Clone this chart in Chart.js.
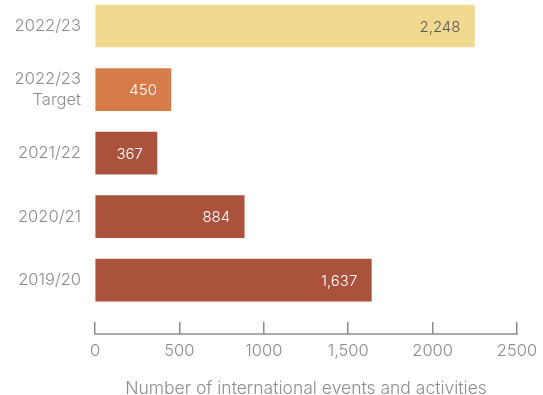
<!DOCTYPE html>
<html>
<head>
<meta charset="utf-8">
<script src="https://cdn.jsdelivr.net/npm/chart.js@4/dist/chart.umd.min.js"></script>
<style>
  html, body { margin: 0; padding: 0; background: #fff; }
  #wrap { width: 543px; height: 395px; }
</style>
</head>
<body>
<div id="wrap"><canvas id="chart"></canvas></div>
<script>
// Years (top to bottom) and event counts
const CATEGORIES = [['2022/23'], ['2022/23', 'Target'], ['2021/22'], ['2020/21'], ['2019/20']];
const EVENTS = [2248, 450, 367, 884, 1637];
const X_TICKS = [0, 500, 1000, 1500, 2000, 2500];
const X_TICK_LABELS = ['0', '500', '1000', '1,500', '2000', '2500'];
const AXIS_TITLE = 'Number of international events and activities';

// Styling
const BAR_COLORS = ['#f2d990', '#d67c49', '#aa523b', '#aa523b', '#aa523b'];
const VALUE_COLORS = ['#575757', '#ffffff', '#ffffff', '#ffffff', '#ffffff'];
const GREY = '#8c8c8c';
const FONT = '"Inter", "Lato", sans-serif';

// Value labels inside the end of each bar
const valueLabels = {
  id: 'valueLabels',
  afterDatasetsDraw(chart) {
    const ctx = chart.ctx;
    const meta = chart.getDatasetMeta(0);
    ctx.save();
    ctx.font = '300 15px ' + FONT;
    ctx.textAlign = 'right';
    ctx.textBaseline = 'middle';
    meta.data.forEach((bar, i) => {
      ctx.fillStyle = VALUE_COLORS[i];
      ctx.fillText(EVENTS[i].toLocaleString('en-US'), bar.x - 14, bar.y + 1);
    });
    ctx.restore();
  }
};

// Baseline under the upward tick marks of the x axis
const axisBaseline = {
  id: 'axisBaseline',
  afterDraw(chart) {
    const x = chart.scales.x;
    const y = x.top + x.options.grid.tickLength;
    const ctx = chart.ctx;
    ctx.save();
    ctx.strokeStyle = GREY;
    ctx.lineWidth = 1.5;
    ctx.beginPath();
    ctx.moveTo(x.getPixelForValue(X_TICKS[0]) - 0.75, y);
    ctx.lineTo(x.getPixelForValue(X_TICKS[X_TICKS.length - 1]) + 0.75, y);
    ctx.stroke();
    ctx.restore();
  }
};

new Chart(document.getElementById('chart'), {
  type: 'bar',
  data: {
    datasets: [{
      data: EVENTS.map((v, i) => ({ x: v, y: i })),
      backgroundColor: BAR_COLORS,
      borderWidth: 0,
      barThickness: 42
    }]
  },
  options: {
    indexAxis: 'y',
    responsive: true,
    maintainAspectRatio: false,
    animation: false,
    events: [],
    layout: { padding: { top: 0, right: 26, bottom: 0, left: 0 } },
    plugins: { legend: { display: false }, tooltip: { enabled: false } },
    scales: {
      y: {
        type: 'linear',
        reverse: true,
        offset: false,
        min: -0.41,
        max: 4.66,
        afterBuildTicks: (s) => { s.ticks = CATEGORIES.map((_, i) => ({ value: i })); },
        afterFit: (s) => { s.width = 95; s.paddingTop = 0; s.paddingBottom = 0; },
        grid: { display: false, drawTicks: false },
        border: { display: false },
        ticks: {
          padding: 14,
          color: GREY,
          font: { family: FONT, size: 16.5, weight: 300, lineHeight: 1.22 },
          callback: (v) => CATEGORIES[v]
        }
      },
      x: {
        type: 'linear',
        min: 0,
        max: 2500,
        afterBuildTicks: (s) => { s.ticks = X_TICKS.map(v => ({ value: v })); },
        afterFit: (s) => { s.height = 73; s.paddingLeft = 0; s.paddingRight = 0; },
        grid: { display: true, drawOnChartArea: false, drawTicks: true, tickLength: 12, color: GREY, lineWidth: 1.5 },
        border: { display: false },
        ticks: {
          padding: 7,
          color: GREY,
          maxRotation: 0,
          font: { family: FONT, size: 16.5, weight: 300 },
          callback: (v) => X_TICK_LABELS[X_TICKS.indexOf(v)]
        },
        title: {
          display: true,
          text: AXIS_TITLE,
          color: GREY,
          font: { family: FONT, size: 17.5, weight: 300, lineHeight: 0.7 },
          padding: { top: 0, bottom: 0 }
        }
      }
    }
  },
  plugins: [valueLabels, axisBaseline]
});
</script>
</body>
</html>
